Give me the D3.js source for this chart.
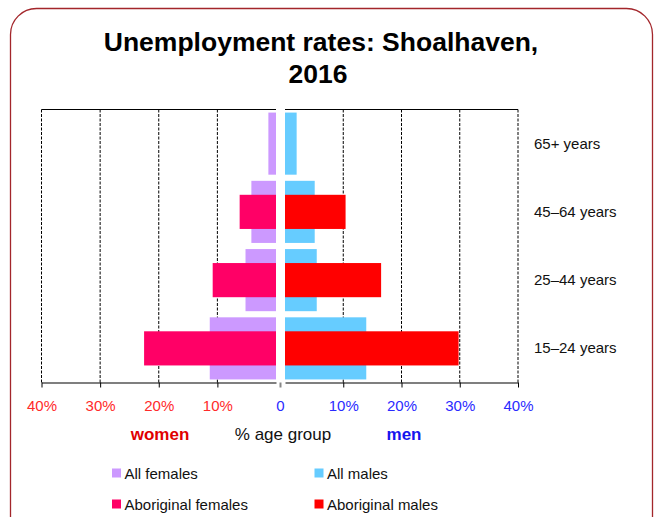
<!DOCTYPE html>
<html>
<head>
<meta charset="utf-8">
<script src="https://cdn.jsdelivr.net/npm/d3@7"></script>
<style>
  body { margin: 0; background: #fff; }
  text { font-family: "Liberation Sans", Arial, sans-serif; }
</style>
</head>
<body>
<div id="chart"></div>
<script>
// chart values (percent of age group)
const ageGroups = ["65+ years", "45–64 years", "25–44 years", "15–24 years"];
const allFemales = [1.3, 4.2, 5.2, 11.3];
const aboriginalFemales = [null, 6.2, 10.8, 22.5];
const allMales = [2.0, 5.1, 5.45, 13.95];
const aboriginalMales = [null, 10.4, 16.5, 29.8];
const tickValues = [10, 20, 30, 40];
const legendItems = ["All females", "All males", "Aboriginal females", "Aboriginal males"];

const width = 658;
const height = 517;
const plotTop = 109.5;
const plotBottom = 382.5;

const colors = {
  allF: "#cc99ff",
  allM: "#66ccff",
  abF: "#ff0066",
  abM: "#ff0000"
};

const svg = d3.select("#chart")
  .append("svg")
  .attr("width", width)
  .attr("height", height);

// outer rounded frame
svg.append("rect")
  .attr("x", 10.5).attr("y", 8.5)
  .attr("width", 642).attr("height", 560)
  .attr("rx", 26).attr("ry", 26)
  .attr("fill", "none")
  .attr("stroke", "#a3262b")
  .attr("stroke-width", 1.3);

// title
svg.append("text")
  .attr("x", 321).attr("y", 51)
  .attr("text-anchor", "middle")
  .attr("font-size", "26.5px").attr("font-weight", "bold")
  .text("Unemployment rates: Shoalhaven,");
svg.append("text")
  .attr("x", 318).attr("y", 83)
  .attr("text-anchor", "middle")
  .attr("font-size", "26.5px").attr("font-weight", "bold")
  .text("2016");

// scales: women to the left, men to the right
const xLeft = d3.scaleLinear().domain([0, 40]).range([276, 41.5]);
const xRight = d3.scaleLinear().domain([0, 40]).range([285, 518]);
const y = d3.scaleBand()
  .domain(ageGroups)
  .range([plotTop, plotBottom])
  .paddingInner(0.09)
  .paddingOuter(0.045);
const bw = y.bandwidth();
const abH = bw * 0.55;

// dotted grid lines
[xLeft, xRight].forEach(function(sc) {
  svg.append("g").selectAll("line")
    .data(tickValues)
    .enter().append("line")
      .attr("x1", d => sc(d)).attr("x2", d => sc(d))
      .attr("y1", plotTop).attr("y2", plotBottom)
      .attr("stroke", "#000")
      .attr("stroke-width", 1)
      .attr("stroke-dasharray", "3,1.5");
  // top border of plot
  svg.append("line")
    .attr("x1", sc(40)).attr("x2", sc(0))
    .attr("y1", plotTop).attr("y2", plotTop)
    .attr("stroke", "#000").attr("stroke-width", 1.2);
});

const rows = ageGroups.map((g, i) => ({
  group: g,
  allF: allFemales[i], abF: aboriginalFemales[i],
  allM: allMales[i], abM: aboriginalMales[i]
}));

// all persons bars (wide)
svg.append("g").selectAll("rect")
  .data(rows)
  .enter().append("rect")
    .attr("x", d => xLeft(d.allF))
    .attr("y", d => y(d.group))
    .attr("width", d => xLeft(0) - xLeft(d.allF))
    .attr("height", bw)
    .attr("fill", colors.allF);

svg.append("g").selectAll("rect")
  .data(rows)
  .enter().append("rect")
    .attr("x", xRight(0))
    .attr("y", d => y(d.group))
    .attr("width", d => xRight(d.allM) - xRight(0))
    .attr("height", bw)
    .attr("fill", colors.allM);

// aboriginal bars (narrow, on top)
svg.append("g").selectAll("rect")
  .data(rows.filter(d => d.abF != null))
  .enter().append("rect")
    .attr("x", d => xLeft(d.abF))
    .attr("y", d => y(d.group) + (bw - abH) / 2)
    .attr("width", d => xLeft(0) - xLeft(d.abF))
    .attr("height", abH)
    .attr("fill", colors.abF);

svg.append("g").selectAll("rect")
  .data(rows.filter(d => d.abM != null))
  .enter().append("rect")
    .attr("x", xRight(0))
    .attr("y", d => y(d.group) + (bw - abH) / 2)
    .attr("width", d => xRight(d.abM) - xRight(0))
    .attr("height", abH)
    .attr("fill", colors.abM);

// bottom axes
const axLeft = svg.append("g")
  .attr("transform", `translate(0,${plotBottom})`)
  .call(d3.axisBottom(xLeft).tickValues([0].concat(tickValues))
    .tickSize(5).tickSizeOuter(0).tickPadding(13)
    .tickFormat(d => d + "%"));
const axRight = svg.append("g")
  .attr("transform", `translate(0,${plotBottom})`)
  .call(d3.axisBottom(xRight).tickValues([0].concat(tickValues))
    .tickSize(5).tickSizeOuter(0).tickPadding(13)
    .tickFormat(d => d + "%"));

[axLeft, axRight].forEach(function(ax, k) {
  ax.select(".domain").attr("stroke", "#000").attr("stroke-width", 1.2);
  ax.selectAll(".tick line").attr("stroke", "#000");
  ax.selectAll(".tick text")
    .attr("font-size", "15px")
    .attr("font-family", "'Liberation Sans', Arial, sans-serif")
    .attr("fill", k === 0 ? "#ff2a2a" : "#2a2aff");
  ax.selectAll(".tick").filter(d => d === 0).remove();
});

// zero tick between the panels
const zeroX = (xLeft(0) + xRight(0)) / 2;
svg.append("line")
  .attr("x1", zeroX).attr("x2", zeroX)
  .attr("y1", plotBottom).attr("y2", plotBottom + 5)
  .attr("stroke", "#888").attr("stroke-width", 2);
svg.append("text")
  .attr("x", zeroX).attr("y", 411)
  .attr("text-anchor", "middle")
  .attr("font-size", "15px")
  .attr("fill", "#2a2aff")
  .text("0");

// category labels on the right
svg.append("g").selectAll("text")
  .data(ageGroups)
  .enter().append("text")
    .attr("x", 534)
    .attr("y", d => y(d) + bw / 2 + 5)
    .attr("font-size", "15px")
    .attr("fill", "#111")
    .text(d => d);

// axis captions
svg.append("text")
  .attr("x", 160).attr("y", 440)
  .attr("text-anchor", "middle")
  .attr("font-size", "17px").attr("font-weight", "bold")
  .attr("fill", "#e00000")
  .text("women");
svg.append("text")
  .attr("x", 283).attr("y", 440)
  .attr("text-anchor", "middle")
  .attr("font-size", "17px")
  .attr("fill", "#111")
  .text("% age group");
svg.append("text")
  .attr("x", 404).attr("y", 440)
  .attr("text-anchor", "middle")
  .attr("font-size", "17px").attr("font-weight", "bold")
  .attr("fill", "#1515ee")
  .text("men");

// legend
const legendColors = [colors.allF, colors.allM, colors.abF, colors.abM];
const legend = svg.append("g").selectAll("g")
  .data(legendItems)
  .enter().append("g")
    .attr("transform", (d, i) => `translate(${i % 2 === 0 ? 112 : 314.5},${i < 2 ? 468.5 : 499.5})`);
legend.append("rect")
  .attr("width", 9).attr("height", 9)
  .attr("fill", (d, i) => legendColors[i]);
legend.append("text")
  .attr("x", 12.5).attr("y", 10)
  .attr("font-size", "15px")
  .attr("fill", "#111")
  .text(d => d);
</script>
</body>
</html>
